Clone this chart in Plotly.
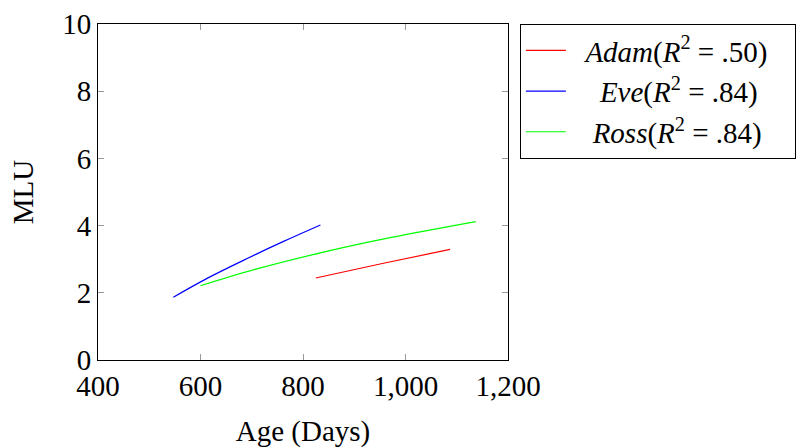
import plotly.graph_objects as go

# Data (fitted curves)
adam_age = [825, 957, 1087]
adam_mlu = [2.44, 2.88, 3.29]
eve_age = [547, 613, 691, 762, 834]
eve_mlu = [1.87, 2.43, 3.02, 3.53, 4.02]
ross_age = [600, 710, 840, 970, 1137]
ross_mlu = [2.21, 2.71, 3.21, 3.64, 4.12]

NB = "\u00a0"
names = [NB * 2 + "<i>Adam</i>(<i>R</i><sup>2</sup> = .50)" + NB * 3,
         NB * 4 + "<i>Eve</i>(<i>R</i><sup>2</sup> = .84)",
         NB * 3 + "<i>Ross</i>(<i>R</i><sup>2</sup> = .84)"]
colors = ["#ff0000", "#0000ff", "#00ff00"]
x_ticks = [400, 600, 800, 1000, 1200]
y_ticks = [0, 2, 4, 6, 8, 10]

FONT = "Liberation Serif, DejaVu Serif, serif"
FS = 29

fig = go.Figure()
for i, (xs, ys, n, c) in enumerate(zip([adam_age, eve_age, ross_age],
                                       [adam_mlu, eve_mlu, ross_mlu], names, colors)):
    fig.add_trace(go.Scatter(x=xs, y=ys, mode="lines", name=n, legendgroup=f"g{i}",
                             line=dict(color=c, width=1.2, shape="spline")))

axis_common = dict(showgrid=False, zeroline=False, showline=True,
                   linecolor="black", linewidth=1, mirror="ticks",
                   ticks="inside", ticklen=6, tickcolor="#999999",
                   automargin=False,
                   tickfont=dict(family=FONT, size=FS, color="black"))

fig.update_layout(
    width=809, height=448,
    margin=dict(l=98, r=301, t=24, b=88),
    plot_bgcolor="white", paper_bgcolor="white",
    font=dict(family=FONT, size=FS, color="black"),
    xaxis=dict(range=[400, 1200], tickvals=x_ticks, tickformat=",",
               title=dict(text="Age (Days)", font=dict(family=FONT, size=FS), standoff=20),
               **axis_common),
    yaxis=dict(range=[0, 10], tickvals=y_ticks,
               title=dict(text="MLU", font=dict(family=FONT, size=FS), standoff=20),
               **axis_common),
    legend=dict(x=1.029, y=1.0, xanchor="left", yanchor="top",
                bordercolor="black", borderwidth=1,
                font=dict(family=FONT, size=29, color="black"),
                tracegroupgap=0, itemwidth=40),
    showlegend=True,
)

fig.write_html("out.html")
